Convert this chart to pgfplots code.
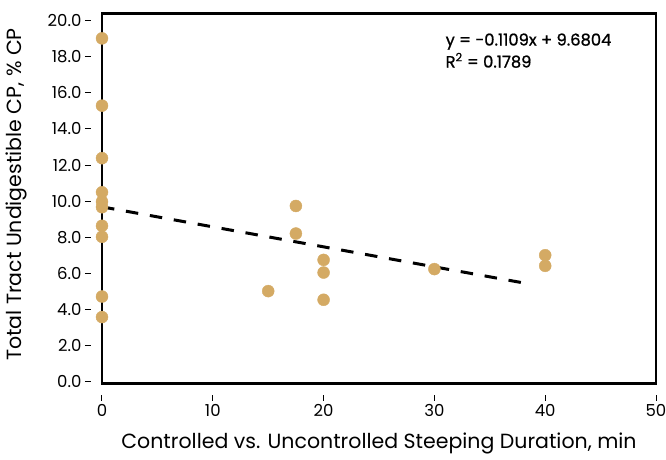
\documentclass[border=0pt]{standalone}
\usepackage{pgfplots}
\pgfplotsset{compat=1.18}
\usepackage{fontspec}
\setmainfont{Poppins}
\newfontfamily\annfont{Poppins}[FakeBold=1]
\definecolor{dot}{RGB}{212,170,100}
\begin{document}
\begin{tikzpicture}
\pgfplotsset{common/.style={width=554pt,height=370pt,scale only axis,xmin=0,xmax=50,ymin=-0.1,ymax=20.41}}
\begin{axis}[common,
  axis x line*=bottom, axis y line*=left,
  axis line style={draw=none},
  axis x line shift=11.5pt, axis y line shift=11.3pt,
  xtick={0,10,...,50}, ytick={0,2,...,20},
  tick align=outside, major tick length=5.8pt,
  tick style={black, line width=1pt},
  /pgf/number format/assume math mode=true,
  yticklabel style={/pgf/number format/.cd,fixed,fixed zerofill,precision=1},
  ticklabel style={font=\fontsize{16.5}{16.5}\selectfont},
  xlabel={Controlled vs. Uncontrolled Steeping Duration, min},
  ylabel={Total Tract Undigestible CP, \% CP},
  label style={font=\fontsize{20.5}{20.5}\selectfont},
  xlabel style={at={(axis description cs:0.5,-0.163)}, anchor=center},
  ylabel style={at={(axis description cs:-0.155,0.51)}, anchor=center},
]
\end{axis}
\begin{axis}[common, axis line style={line width=2.6pt}, ticks=none, clip=false]
\addplot[black, line width=3pt, dash pattern=on 12.5pt off 11.8pt] coordinates {(0,9.6804) (38.8,5.38)};
\addplot[only marks, mark=*, mark size=6pt, color=dot, mark options={draw=dot, fill=dot}] coordinates {
(0,19.02) (0,15.29) (0,12.38) (0,10.49) (0,9.97) (0,9.66) (0,8.63) (0,8.02) (0,4.71) (0,3.57)
(15,5.01) (17.5,9.73) (17.5,8.20) (20,6.74) (20,6.04) (20,4.53) (30,6.23) (40,7.00) (40,6.41)};
\node[anchor=west, align=left, inner sep=0pt, font=\annfont\fontsize{16.3}{22}\selectfont] at (rel axis cs:0.62,0.899) {y = -0.1109x + 9.6804\\R\textsuperscript{2} = 0.1789};
\end{axis}
\pgfresetboundingbox
\path[use as bounding box] ([shift={(-102pt,-76.5pt)}]current axis.south west) rectangle ([shift={(10pt,13.3pt)}]current axis.north east);
\end{tikzpicture}
\end{document}
